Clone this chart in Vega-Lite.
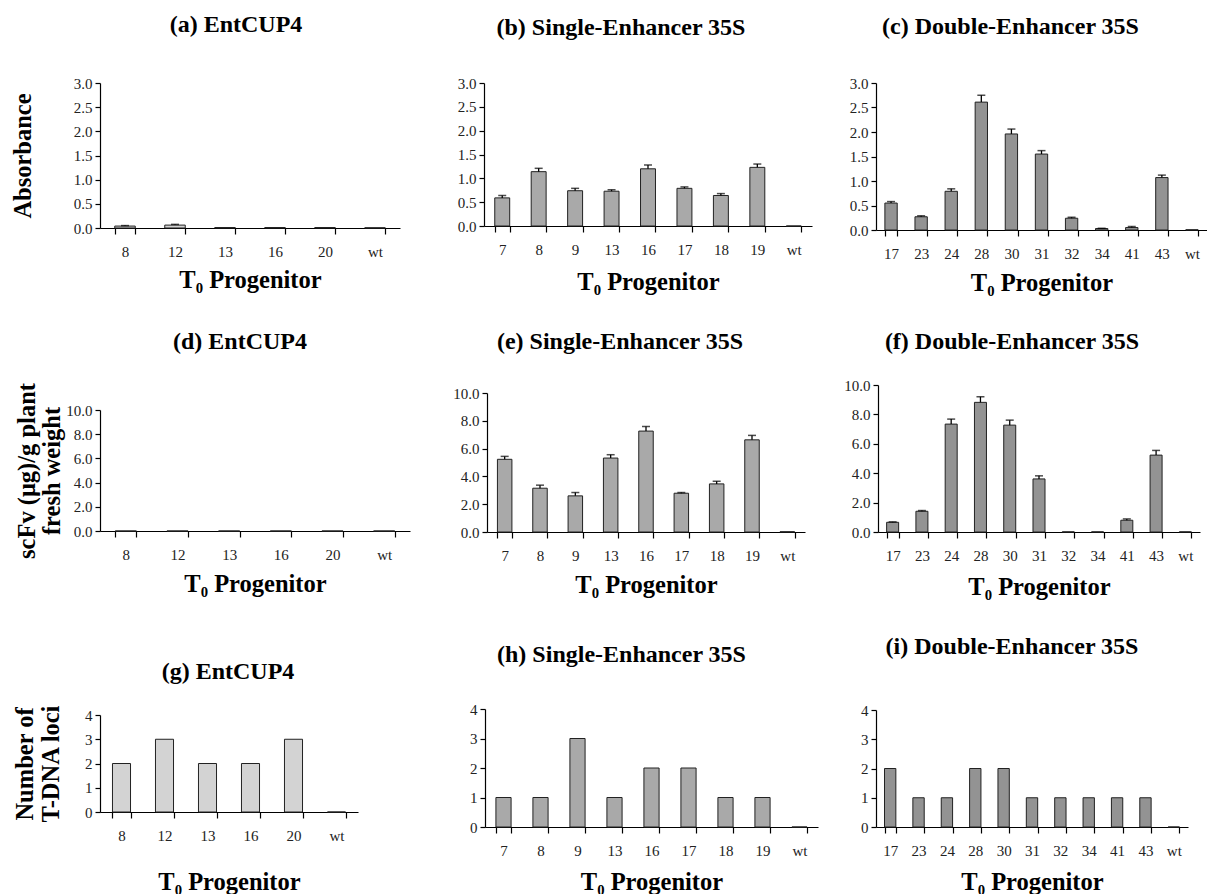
{
  "$schema": "https://vega.github.io/schema/vega-lite/v6.json",
  "background": "white",
  "autosize": {"type": "pad"},
  "padding": {"left": 10, "top": 12, "right": 0, "bottom": 0},
  "config": {
    "font": "Liberation Serif",
    "view": {"stroke": null},
    "title": {"font": "Liberation Serif", "fontSize": 24, "fontWeight": "bold", "color": "black", "anchor": "middle", "frame": "group"},
    "axis": {"grid": false, "domainColor": "black", "tickColor": "black", "labelColor": "#222", "labelFont": "Liberation Serif", "labelFontSize": 15, "titleFont": "Liberation Serif", "titleFontSize": 24.5, "titleFontWeight": "bold", "titleColor": "black", "domainWidth": 1.2, "tickWidth": 1.2},
    "axisX": {"labelAngle": 0, "tickSize": 6, "labelPadding": 10, "tickBand": "extent", "minExtent": 31, "maxExtent": 31},
    "axisY": {"tickSize": 5, "labelPadding": 3},
    "bar": {"stroke": "#222", "strokeWidth": 1},
    "rule": {"color": "black", "strokeWidth": 1.3},
    "tick": {"color": "black", "thickness": 1.5, "size": 8}
  },
  "datasets": {
    "d": [
      {"p": "a", "line": "8", "value": 0.04, "err": 0.05},
      {"p": "a", "line": "12", "value": 0.06, "err": 0.075},
      {"p": "a", "line": "13", "value": 0.01, "err": null},
      {"p": "a", "line": "16", "value": 0.01, "err": null},
      {"p": "a", "line": "20", "value": 0.01, "err": null},
      {"p": "a", "line": "wt", "value": 0.005, "err": null},
      {"p": "b", "line": "7", "value": 0.59, "err": 0.64},
      {"p": "b", "line": "8", "value": 1.14, "err": 1.21},
      {"p": "b", "line": "9", "value": 0.74, "err": 0.79},
      {"p": "b", "line": "13", "value": 0.73, "err": 0.76},
      {"p": "b", "line": "16", "value": 1.2, "err": 1.28},
      {"p": "b", "line": "17", "value": 0.79, "err": 0.82},
      {"p": "b", "line": "18", "value": 0.64, "err": 0.68},
      {"p": "b", "line": "19", "value": 1.23, "err": 1.3},
      {"p": "b", "line": "wt", "value": 0, "err": null},
      {"p": "c", "line": "17", "value": 0.55, "err": 0.58},
      {"p": "c", "line": "23", "value": 0.27, "err": 0.29},
      {"p": "c", "line": "24", "value": 0.79, "err": 0.84},
      {"p": "c", "line": "28", "value": 2.61, "err": 2.75},
      {"p": "c", "line": "30", "value": 1.96, "err": 2.06},
      {"p": "c", "line": "31", "value": 1.55, "err": 1.62},
      {"p": "c", "line": "32", "value": 0.24, "err": 0.26},
      {"p": "c", "line": "34", "value": 0.03, "err": 0.035},
      {"p": "c", "line": "41", "value": 0.05, "err": 0.07},
      {"p": "c", "line": "43", "value": 1.07, "err": 1.12},
      {"p": "c", "line": "wt", "value": 0.005, "err": null},
      {"p": "d", "line": "8", "value": 0, "err": null},
      {"p": "d", "line": "12", "value": 0, "err": null},
      {"p": "d", "line": "13", "value": 0, "err": null},
      {"p": "d", "line": "16", "value": 0, "err": null},
      {"p": "d", "line": "20", "value": 0, "err": null},
      {"p": "d", "line": "wt", "value": 0, "err": null},
      {"p": "e", "line": "7", "value": 5.23, "err": 5.44},
      {"p": "e", "line": "8", "value": 3.15, "err": 3.37},
      {"p": "e", "line": "9", "value": 2.6, "err": 2.84},
      {"p": "e", "line": "13", "value": 5.32, "err": 5.56},
      {"p": "e", "line": "16", "value": 7.26, "err": 7.59},
      {"p": "e", "line": "17", "value": 2.79, "err": 2.84},
      {"p": "e", "line": "18", "value": 3.46, "err": 3.65},
      {"p": "e", "line": "19", "value": 6.63, "err": 6.95},
      {"p": "e", "line": "wt", "value": 0.02, "err": null},
      {"p": "f", "line": "17", "value": 0.66, "err": 0.69},
      {"p": "f", "line": "23", "value": 1.41, "err": 1.46},
      {"p": "f", "line": "24", "value": 7.34, "err": 7.68},
      {"p": "f", "line": "28", "value": 8.82, "err": 9.2},
      {"p": "f", "line": "30", "value": 7.27, "err": 7.61},
      {"p": "f", "line": "31", "value": 3.61, "err": 3.82},
      {"p": "f", "line": "32", "value": 0.01, "err": null},
      {"p": "f", "line": "34", "value": 0.01, "err": null},
      {"p": "f", "line": "41", "value": 0.8, "err": 0.89},
      {"p": "f", "line": "43", "value": 5.23, "err": 5.55},
      {"p": "f", "line": "wt", "value": 0.01, "err": null},
      {"p": "g", "line": "8", "value": 2, "err": null},
      {"p": "g", "line": "12", "value": 3, "err": null},
      {"p": "g", "line": "13", "value": 2, "err": null},
      {"p": "g", "line": "16", "value": 2, "err": null},
      {"p": "g", "line": "20", "value": 3, "err": null},
      {"p": "g", "line": "wt", "value": 0, "err": null},
      {"p": "h", "line": "7", "value": 1, "err": null},
      {"p": "h", "line": "8", "value": 1, "err": null},
      {"p": "h", "line": "9", "value": 3, "err": null},
      {"p": "h", "line": "13", "value": 1, "err": null},
      {"p": "h", "line": "16", "value": 2, "err": null},
      {"p": "h", "line": "17", "value": 2, "err": null},
      {"p": "h", "line": "18", "value": 1, "err": null},
      {"p": "h", "line": "19", "value": 1, "err": null},
      {"p": "h", "line": "wt", "value": 0, "err": null},
      {"p": "i", "line": "17", "value": 2, "err": null},
      {"p": "i", "line": "23", "value": 1, "err": null},
      {"p": "i", "line": "24", "value": 1, "err": null},
      {"p": "i", "line": "28", "value": 2, "err": null},
      {"p": "i", "line": "30", "value": 2, "err": null},
      {"p": "i", "line": "31", "value": 1, "err": null},
      {"p": "i", "line": "32", "value": 1, "err": null},
      {"p": "i", "line": "34", "value": 1, "err": null},
      {"p": "i", "line": "41", "value": 1, "err": null},
      {"p": "i", "line": "43", "value": 1, "err": null},
      {"p": "i", "line": "wt", "value": 0, "err": null}
    ]
  },
  "columns": 3,
  "align": "none",
  "bounds": "full",
  "spacing": {"row": 35, "column": 0},
  "concat": [
    {
      "width": 300, "height": 145,
      "title": {"text": "(a) EntCUP4", "offset": 39.5, "dx": -14},
      "data": {"name": "d"},
      "transform": [{"filter": "datum.p === 'a'"}],
      "encoding": {"x": {"field": "line", "type": "nominal", "sort": null, "title": "T₀ Progenitor", "scale": {"paddingInner": 0.59, "paddingOuter": 0.295}, "axis": {"titlePadding": 9.5}}},
      "layer": [
        {"mark": {"type": "bar", "fill": "#d3d3d3"}, "encoding": {"y": {"field": "value", "type": "quantitative", "title": "Absorbance", "scale": {"domain": [0, 3]}, "axis": {"values": [0, 0.5, 1, 1.5, 2, 2.5, 3], "format": ".1f", "minExtent": 30, "maxExtent": 30, "titlePadding": 35}}}},
        {"transform": [{"filter": "isValid(datum.err)"}], "mark": {"type": "rule"}, "encoding": {"y": {"field": "value", "type": "quantitative", "title": "Absorbance", "scale": {"domain": [0, 3]}, "axis": {"values": [0, 0.5, 1, 1.5, 2, 2.5, 3], "format": ".1f", "minExtent": 30, "maxExtent": 30, "titlePadding": 35}}, "y2": {"field": "err"}}},
        {"transform": [{"filter": "isValid(datum.err)"}], "mark": {"type": "tick"}, "encoding": {"y": {"field": "err", "type": "quantitative", "title": "Absorbance", "scale": {"domain": [0, 3]}, "axis": {"values": [0, 0.5, 1, 1.5, 2, 2.5, 3], "format": ".1f", "minExtent": 30, "maxExtent": 30, "titlePadding": 35}}}}
      ]
    },
    {
      "width": 328, "height": 143,
      "title": {"text": "(b) Single-Enhancer 35S", "offset": 36.5, "dx": -27},
      "data": {"name": "d"},
      "transform": [{"filter": "datum.p === 'b'"}],
      "encoding": {"x": {"field": "line", "type": "nominal", "sort": null, "title": "T₀ Progenitor", "scale": {"paddingInner": 0.59, "paddingOuter": 0.295}, "axis": {"titlePadding": 13.5}}},
      "layer": [
        {"mark": {"type": "bar", "fill": "#a9a9a9"}, "encoding": {"y": {"field": "value", "type": "quantitative", "title": null, "scale": {"domain": [0, 3]}, "axis": {"values": [0, 0.5, 1, 1.5, 2, 2.5, 3], "format": ".1f", "minExtent": 74, "maxExtent": 74}}}},
        {"transform": [{"filter": "isValid(datum.err)"}], "mark": {"type": "rule"}, "encoding": {"y": {"field": "value", "type": "quantitative", "title": null, "scale": {"domain": [0, 3]}, "axis": {"values": [0, 0.5, 1, 1.5, 2, 2.5, 3], "format": ".1f", "minExtent": 74, "maxExtent": 74}}, "y2": {"field": "err"}}},
        {"transform": [{"filter": "isValid(datum.err)"}], "mark": {"type": "tick"}, "encoding": {"y": {"field": "err", "type": "quantitative", "title": null, "scale": {"domain": [0, 3]}, "axis": {"values": [0, 0.5, 1, 1.5, 2, 2.5, 3], "format": ".1f", "minExtent": 74, "maxExtent": 74}}}}
      ]
    },
    {
      "width": 331, "height": 147,
      "title": {"text": "(c) Double-Enhancer 35S", "offset": 37.5, "dx": -31},
      "data": {"name": "d"},
      "transform": [{"filter": "datum.p === 'c'"}],
      "encoding": {"x": {"field": "line", "type": "nominal", "sort": null, "title": "T₀ Progenitor", "scale": {"paddingInner": 0.59, "paddingOuter": 0.295}, "axis": {"titlePadding": 10.5}}},
      "layer": [
        {"mark": {"type": "bar", "fill": "#939393"}, "encoding": {"y": {"field": "value", "type": "quantitative", "title": null, "scale": {"domain": [0, 3]}, "axis": {"values": [0, 0.5, 1, 1.5, 2, 2.5, 3], "format": ".1f", "minExtent": 59, "maxExtent": 59}}}},
        {"transform": [{"filter": "isValid(datum.err)"}], "mark": {"type": "rule"}, "encoding": {"y": {"field": "value", "type": "quantitative", "title": null, "scale": {"domain": [0, 3]}, "axis": {"values": [0, 0.5, 1, 1.5, 2, 2.5, 3], "format": ".1f", "minExtent": 59, "maxExtent": 59}}, "y2": {"field": "err"}}},
        {"transform": [{"filter": "isValid(datum.err)"}], "mark": {"type": "tick"}, "encoding": {"y": {"field": "err", "type": "quantitative", "title": null, "scale": {"domain": [0, 3]}, "axis": {"values": [0, 0.5, 1, 1.5, 2, 2.5, 3], "format": ".1f", "minExtent": 59, "maxExtent": 59}}}}
      ]
    },
    {
      "width": 310, "height": 121,
      "title": {"text": "(d) EntCUP4", "offset": 28.5, "dx": -15},
      "data": {"name": "d"},
      "transform": [{"filter": "datum.p === 'd'"}],
      "encoding": {"x": {"field": "line", "type": "nominal", "sort": null, "title": "T₀ Progenitor", "scale": {"paddingInner": 0.59, "paddingOuter": 0.295}, "axis": {"titlePadding": 10.5}}},
      "layer": [
        {"mark": {"type": "bar", "fill": "#d3d3d3"}, "encoding": {"y": {"field": "value", "type": "quantitative", "title": ["scFv (μg)/g plant", "fresh weight"], "scale": {"domain": [0, 10]}, "axis": {"values": [0, 2, 4, 6, 8, 10], "format": ".1f", "minExtent": 30, "maxExtent": 30, "titlePadding": 6, "titleLineHeight": 25}}}}
      ]
    },
    {
      "width": 318, "height": 139,
      "title": {"text": "(e) Single-Enhancer 35S", "offset": 32, "dx": -26},
      "data": {"name": "d"},
      "transform": [{"filter": "datum.p === 'e'"}],
      "encoding": {"x": {"field": "line", "type": "nominal", "sort": null, "title": "T₀ Progenitor", "scale": {"paddingInner": 0.59, "paddingOuter": 0.295}, "axis": {"titlePadding": 10.5}}},
      "layer": [
        {"mark": {"type": "bar", "fill": "#a9a9a9"}, "encoding": {"y": {"field": "value", "type": "quantitative", "title": null, "scale": {"domain": [0, 10]}, "axis": {"values": [0, 2, 4, 6, 8, 10], "format": ".1f", "minExtent": 77, "maxExtent": 77}}}},
        {"transform": [{"filter": "isValid(datum.err)"}], "mark": {"type": "rule"}, "encoding": {"y": {"field": "value", "type": "quantitative", "title": null, "scale": {"domain": [0, 10]}, "axis": {"values": [0, 2, 4, 6, 8, 10], "format": ".1f", "minExtent": 77, "maxExtent": 77}}, "y2": {"field": "err"}}},
        {"transform": [{"filter": "isValid(datum.err)"}], "mark": {"type": "tick"}, "encoding": {"y": {"field": "err", "type": "quantitative", "title": null, "scale": {"domain": [0, 10]}, "axis": {"values": [0, 2, 4, 6, 8, 10], "format": ".1f", "minExtent": 77, "maxExtent": 77}}}}
      ]
    },
    {
      "width": 322, "height": 147,
      "title": {"text": "(f) Double-Enhancer 35S", "offset": 24, "dx": -27},
      "data": {"name": "d"},
      "transform": [{"filter": "datum.p === 'f'"}],
      "encoding": {"x": {"field": "line", "type": "nominal", "sort": null, "title": "T₀ Progenitor", "scale": {"paddingInner": 0.59, "paddingOuter": 0.295}, "axis": {"titlePadding": 12.5}}},
      "layer": [
        {"mark": {"type": "bar", "fill": "#939393"}, "encoding": {"y": {"field": "value", "type": "quantitative", "title": null, "scale": {"domain": [0, 10]}, "axis": {"values": [0, 2, 4, 6, 8, 10], "format": ".1f", "minExtent": 58, "maxExtent": 58}}}},
        {"transform": [{"filter": "isValid(datum.err)"}], "mark": {"type": "rule"}, "encoding": {"y": {"field": "value", "type": "quantitative", "title": null, "scale": {"domain": [0, 10]}, "axis": {"values": [0, 2, 4, 6, 8, 10], "format": ".1f", "minExtent": 58, "maxExtent": 58}}, "y2": {"field": "err"}}},
        {"transform": [{"filter": "isValid(datum.err)"}], "mark": {"type": "tick"}, "encoding": {"y": {"field": "err", "type": "quantitative", "title": null, "scale": {"domain": [0, 10]}, "axis": {"values": [0, 2, 4, 6, 8, 10], "format": ".1f", "minExtent": 58, "maxExtent": 58}}}}
      ]
    },
    {
      "width": 258, "height": 97,
      "title": {"text": "(g) EntCUP4", "offset": 20.5, "dx": -1},
      "data": {"name": "d"},
      "transform": [{"filter": "datum.p === 'g'"}],
      "encoding": {"x": {"field": "line", "type": "nominal", "sort": null, "title": "T₀ Progenitor", "scale": {"paddingInner": 0.58, "paddingOuter": 0.29}, "axis": {"titlePadding": 27}}},
      "layer": [
        {"mark": {"type": "bar", "fill": "#d3d3d3"}, "encoding": {"y": {"field": "value", "type": "quantitative", "title": ["Number of", "T-DNA loci"], "scale": {"domain": [0, 4]}, "axis": {"values": [0, 1, 2, 3, 4], "format": "d", "minExtent": 18, "maxExtent": 18, "titlePadding": 19, "titleLineHeight": 26}}}}
      ]
    },
    {
      "width": 333, "height": 118,
      "title": {"text": "(h) Single-Enhancer 35S", "offset": 35.5, "dx": -30},
      "data": {"name": "d"},
      "transform": [{"filter": "datum.p === 'h'"}],
      "encoding": {"x": {"field": "line", "type": "nominal", "sort": null, "title": "T₀ Progenitor", "scale": {"paddingInner": 0.59, "paddingOuter": 0.295}, "axis": {"titlePadding": 12}}},
      "layer": [
        {"mark": {"type": "bar", "fill": "#a9a9a9"}, "encoding": {"y": {"field": "value", "type": "quantitative", "title": null, "scale": {"domain": [0, 4]}, "axis": {"values": [0, 1, 2, 3, 4], "format": "d", "minExtent": 75, "maxExtent": 75}}}}
      ]
    },
    {
      "width": 312, "height": 117,
      "title": {"text": "(i) Double-Enhancer 35S", "offset": 44.5, "dx": -20},
      "data": {"name": "d"},
      "transform": [{"filter": "datum.p === 'i'"}],
      "encoding": {"x": {"field": "line", "type": "nominal", "sort": null, "title": "T₀ Progenitor", "scale": {"paddingInner": 0.6, "paddingOuter": 0.3}, "axis": {"titlePadding": 12}}},
      "layer": [
        {"mark": {"type": "bar", "fill": "#939393"}, "encoding": {"y": {"field": "value", "type": "quantitative", "title": null, "scale": {"domain": [0, 4]}, "axis": {"values": [0, 1, 2, 3, 4], "format": "d", "minExtent": 58, "maxExtent": 58}}}}
      ]
    }
  ]
}
